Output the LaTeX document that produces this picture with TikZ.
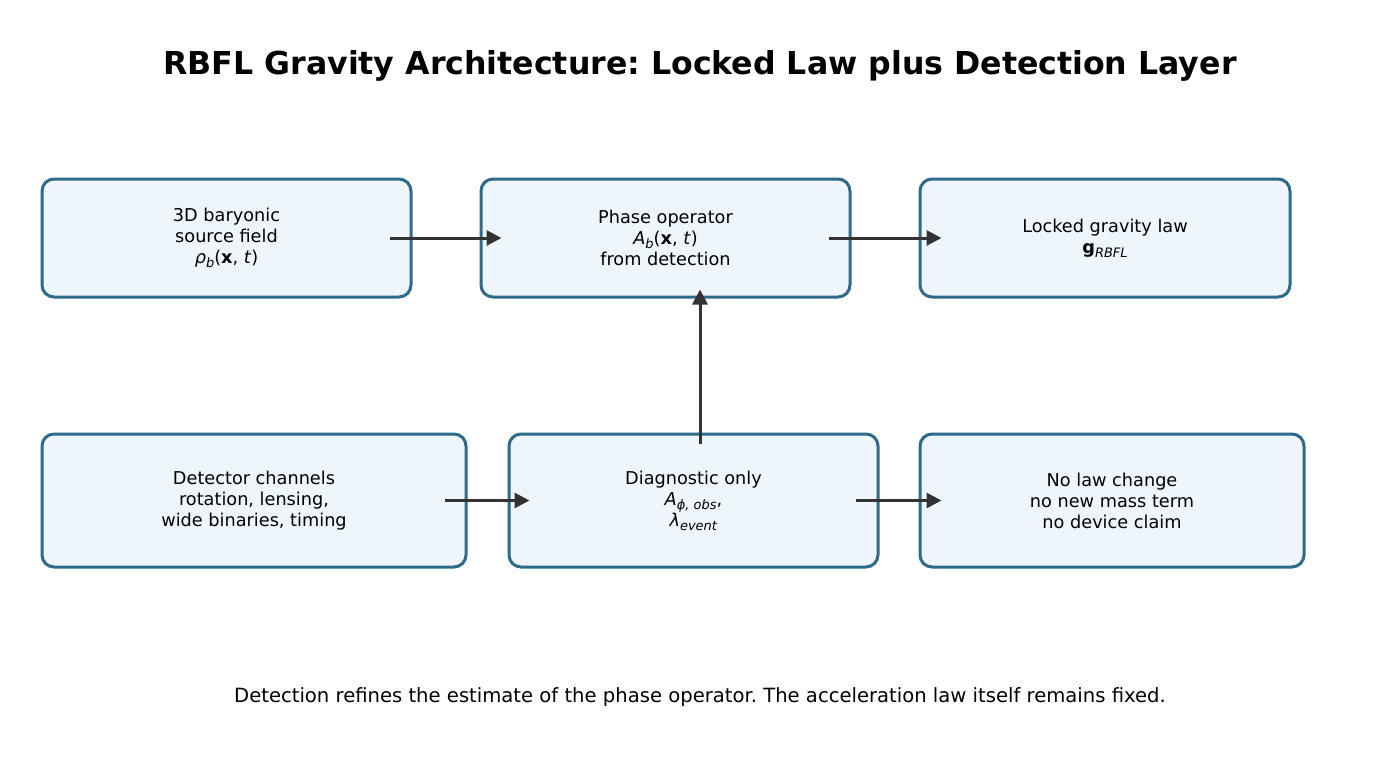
\documentclass[tikz,border=0pt]{standalone}
\usepackage{fontspec}
\setmainfont{DejaVu Sans}
\usetikzlibrary{arrows.meta,calc}
\definecolor{boxedge}{HTML}{2E6A8A}
\definecolor{boxfill}{HTML}{EEF5FB}
\definecolor{arrowc}{HTML}{333333}
\newcommand{\sbs}[1]{\raisebox{-0.22em}{\fontsize{13}{15}\selectfont\textit{#1}}}
\frenchspacing
\begin{document}
\begin{tikzpicture}[x=1pt,y=-1pt,
  flowbox/.style={draw=boxedge,fill=boxfill,line width=3pt,rounded corners=12pt,
    align=center,inner sep=0pt,font=\fontsize{17.7}{21}\selectfont},
  flowarrow/.style={draw=arrowc,line width=3pt,-{Triangle[length=15pt,width=15pt]}}]
\useasboundingbox (0,0) rectangle (1400,777);
\node[font=\fontsize{31.6}{38}\selectfont\bfseries] (title) at (700,66) {RBFL Gravity Architecture: Locked Law plus Detection Layer};
\node[flowbox,minimum width=369pt,minimum height=118pt] (src) at (226.5,238) {3D baryonic\\source field\\\textit{ρ}\sbs{b}(\textbf{x}, \textit{t})};
\node[flowbox,minimum width=369pt,minimum height=118pt] (phase) at (665.5,238) {Phase operator\\\textit{A}\sbs{b}(\textbf{x}, \textit{t})\\from detection};
\node[flowbox,minimum width=370pt,minimum height=118pt] (law) at (1105,238) {Locked gravity law\\\textbf{g}\sbs{RBFL}};
\node[flowbox,minimum width=424pt,minimum height=133pt] (det) at (254,500.5) {Detector channels\\rotation, lensing,\\wide binaries, timing};
\node[flowbox,minimum width=369pt,minimum height=133pt] (diag) at (693.5,500.5) {Diagnostic only\\\textit{A}\sbs{ϕ, obs},\\\textit{λ}\sbs{event}};
\node[flowbox,minimum width=384pt,minimum height=133pt] (nochange) at (1112,500.5) {No law change\\no new mass term\\no device claim};
\draw[flowarrow] ($(src.east)+(-23,0)$) -- ($(phase.west)+(22,0)$);
\draw[flowarrow] ($(phase.east)+(-23,0)$) -- ($(law.west)+(23,0)$);
\draw[flowarrow] ($(diag.north)+(6.5,11)$) -- ($(phase.south)+(34.5,-9)$);
\draw[flowarrow] ($(det.east)+(-23,0)$) -- ($(diag.west)+(22,0)$);
\draw[flowarrow] ($(diag.east)+(-24,0)$) -- ($(nochange.west)+(23,0)$);
\node[font=\fontsize{19.6}{24}\selectfont] (caption) at (700,697) {Detection refines the estimate of the phase operator. The acceleration law itself remains fixed.};
\end{tikzpicture}
\end{document}
